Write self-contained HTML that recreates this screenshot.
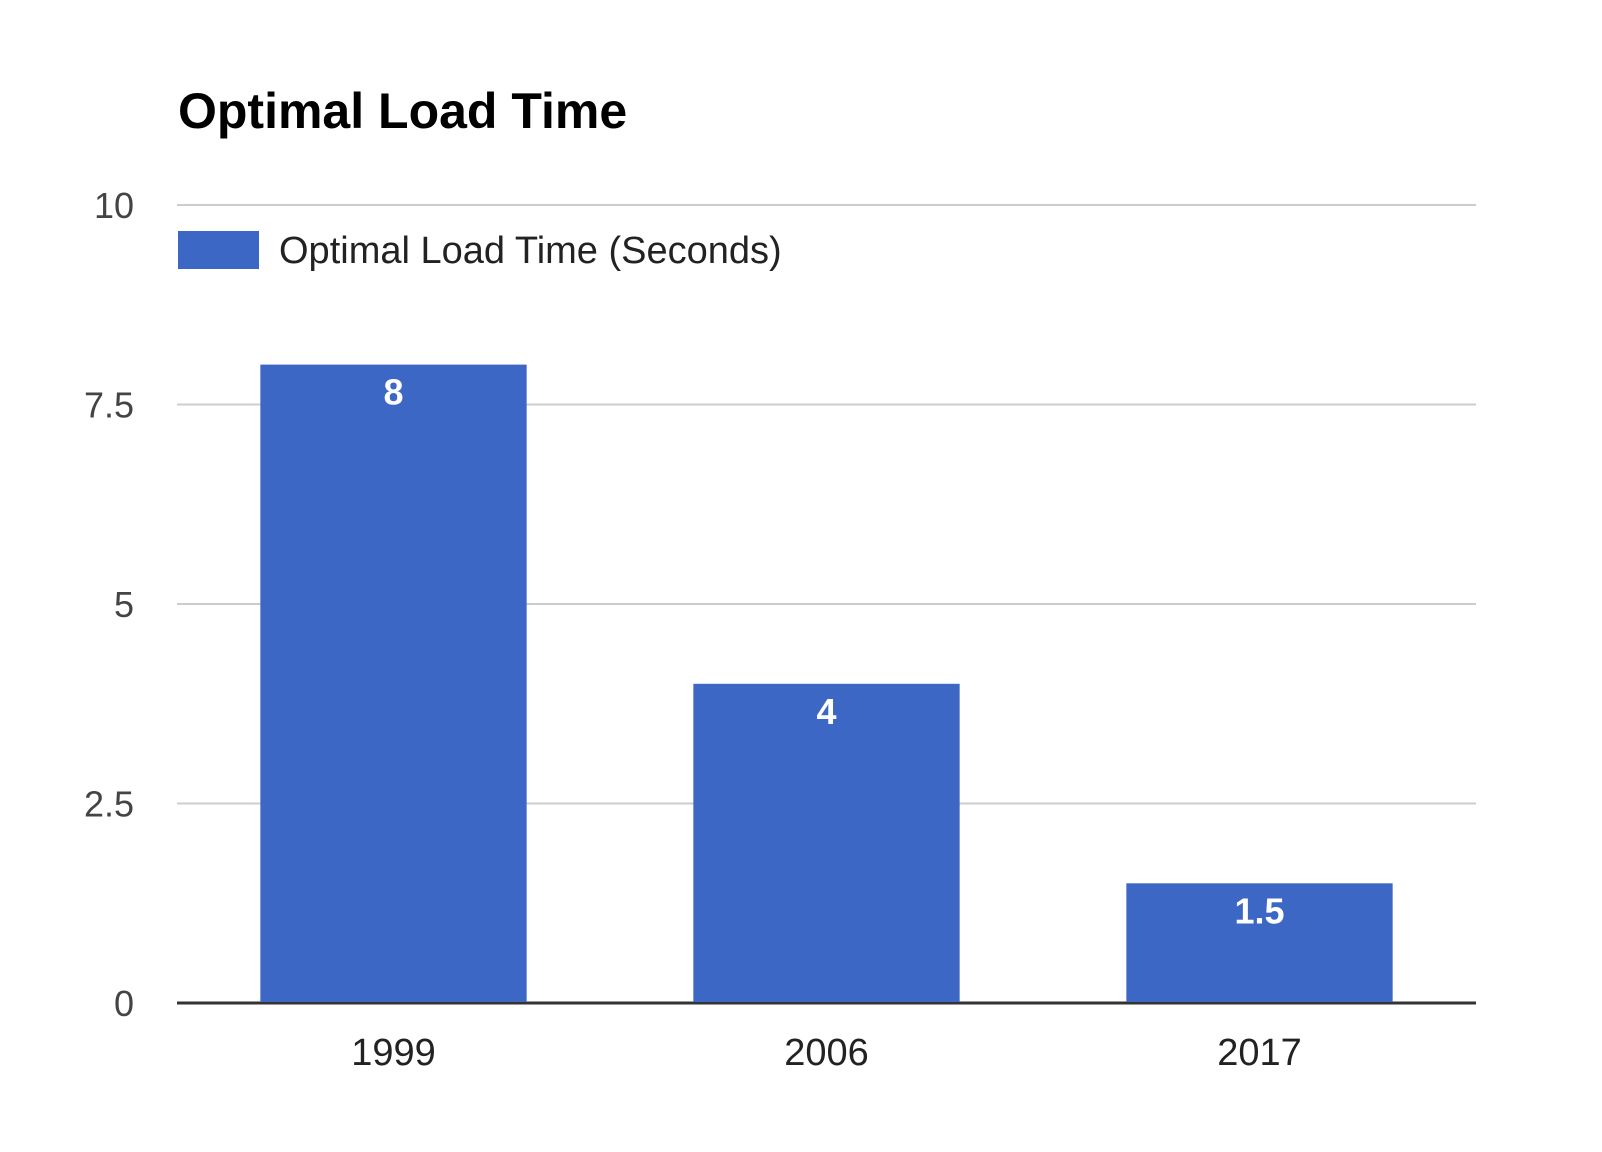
<!DOCTYPE html>
<html><head><meta charset="utf-8"><style>
html,body{margin:0;padding:0;background:#fff;}
svg{display:block;font-family:"Liberation Sans",Arial,sans-serif;}
</style></head><body>
<svg id="chart" width="1602" height="1152" viewBox="0 0 1602 1152">
<text x="178" y="128" font-size="50" font-weight="bold" fill="#000">Optimal Load Time</text>
<g>
<rect x="178" y="231" width="81" height="38" fill="#3d67c5"></rect>
<text x="279" y="263" font-size="38" fill="#222">Optimal Load Time (Seconds)</text>
</g>
<g id="grid"></g><g id="bars"></g><g id="labels"></g>
</svg>
<script>
const categories = ["1999", "2006", "2017"];
const values = [8, 4, 1.5];
const valueLabels = ["8", "4", "1.5"];
const yTicks = [0, 2.5, 5, 7.5, 10];
const yTickLabels = ["0", "2.5", "5", "7.5", "10"];
const NS = "http://www.w3.org/2000/svg";
const L = 177, R = 1476, T = 205, B = 1003, yMax = 10;
const y = v => B - (v / yMax) * (B - T);
const band = (R - L) / categories.length;
const x = i => L + band * i + band / 2;
const bw = band * 0.615;
function mk(tag, attrs, parent) {
  const e = document.createElementNS(NS, tag);
  for (const k in attrs) e.setAttribute(k, attrs[k]);
  parent.appendChild(e);
  return e;
}
const grid = document.getElementById("grid"), bars = document.getElementById("bars"), labels = document.getElementById("labels");
yTicks.forEach((t, i) => {
  const ln = mk("line", {x1: L, x2: R, y1: y(t), y2: y(t), stroke: t === 0 ? "#333" : "#ccc", "stroke-width": t === 0 ? 3 : 2}, grid);
  
  
  const tx = mk("text", {x: 134, y: y(t) + 13, "font-size": 36, fill: "#444", "text-anchor": "end"}, grid);
  tx.textContent = yTickLabels[i];
  
  
});
categories.forEach((c, i) => {
  const r = mk("rect", {x: x(i) - bw / 2, y: y(values[i]), width: bw, height: B - 1 - y(values[i]), fill: "#3d67c5"}, bars);
  
  
  const v = mk("text", {x: x(i), y: y(values[i]) + 40, "font-size": 36, "font-weight": "bold", fill: "#fff", "text-anchor": "middle"}, labels);
  v.textContent = valueLabels[i];
  
  
  const cl = mk("text", {x: x(i), y: 1065, "font-size": 38, fill: "#222", "text-anchor": "middle"}, labels);
  cl.textContent = c;
  
  
});
</script>
</body></html>
